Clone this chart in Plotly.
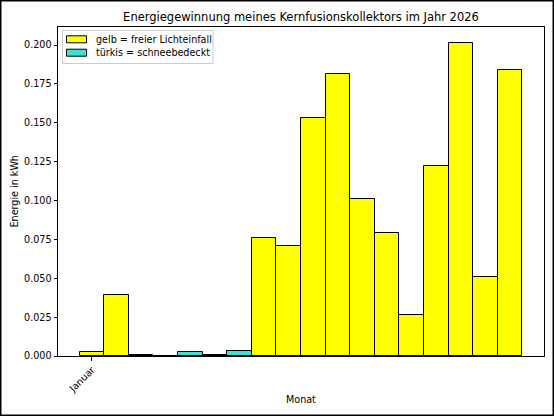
import plotly.graph_objects as go

# ---- data ----
month_index = list(range(18))
energy_kwh = [0.0024, 0.0390, 0.0009, 0.0003, 0.0026, 0.0009, 0.0032,
              0.0756, 0.0705, 0.1528, 0.1816, 0.1008, 0.0793, 0.0265,
              0.1220, 0.2015, 0.0506, 0.1838]
snow_covered = [False, False, True, True, True, True, True,
                False, False, False, False, False, False, False,
                False, False, False, False]
tick_positions = [0]
tick_labels = ["Januar"]
y_ticks = [0.0, 0.025, 0.05, 0.075, 0.1, 0.125, 0.15, 0.175, 0.2]
legend_labels = ["gelb = freier Lichteinfall", "türkis = schneebedeckt"]

YELLOW = "#ffff00"
TURQ = "#40e0d0"
FONT = "DejaVu Sans"

W, H = 554, 416
L, R, T, B = 58, 10, 27, 60
PW, PH = W - L - R, H - T - B


def px(x):
    return (x - L) / PW


def py(y):
    return 1 - (y - T) / PH


fig = go.Figure()
xs_y = [m for m, s in zip(month_index, snow_covered) if not s]
vs_y = [v for v, s in zip(energy_kwh, snow_covered) if not s]
xs_t = [m for m, s in zip(month_index, snow_covered) if s]
vs_t = [v for v, s in zip(energy_kwh, snow_covered) if s]

fig.add_trace(go.Bar(x=xs_y, y=vs_y, width=1, name=legend_labels[0],
                     marker=dict(color=YELLOW, line=dict(color="black", width=1)),
                     showlegend=False))
fig.add_trace(go.Bar(x=xs_t, y=vs_t, width=1, name=legend_labels[1],
                     marker=dict(color=TURQ, line=dict(color="black", width=1)),
                     showlegend=False))

shapes = []
# figure border
shapes.append(dict(type="rect", xref="paper", yref="paper",
                   x0=px(0.75), x1=px(W - 0.75), y0=py(H - 0.75), y1=py(0.75),
                   line=dict(color="black", width=1.5), fillcolor="rgba(0,0,0,0)",
                   layer="below"))
# legend box
shapes.append(dict(type="rect", xref="paper", yref="paper",
                   x0=px(62.5), x1=px(213), y0=py(63.5), y1=py(30.5),
                   line=dict(color="#cccccc", width=1), fillcolor="rgba(255,255,255,0.8)"))
annotations = []
for i, (lab, col) in enumerate(zip(legend_labels, [YELLOW, TURQ])):
    cy = 39.3 + i * 13.4
    shapes.append(dict(type="rect", xref="paper", yref="paper",
                       x0=px(66.5), x1=px(86.5), y0=py(cy + 3.5), y1=py(cy - 3.5),
                       line=dict(color="black", width=1), fillcolor=col))
    annotations.append(dict(text=lab, xref="paper", yref="paper", x=px(94), y=py(cy),
                            xanchor="left", yanchor="middle", showarrow=False,
                            font=dict(family=FONT, size=9.6, color="black")))

annotations.append(dict(text="Monat", xref="paper", yref="paper", x=0.5, y=py(400),
                        xanchor="center", yanchor="middle", showarrow=False,
                        font=dict(family=FONT, size=9.6, color="black")))
annotations.append(dict(text="Energie in kWh", xref="paper", yref="paper", x=px(14), y=0.5,
                        xanchor="center", yanchor="middle", showarrow=False, textangle=-90,
                        font=dict(family=FONT, size=9.6, color="black")))

fig.update_layout(
    width=W, height=H,
    margin=dict(l=L, r=R, t=T, b=B, autoexpand=False),
    paper_bgcolor="white", plot_bgcolor="white",
    barmode="overlay", bargap=0,
    title=dict(text="Energiegewinnung meines Kernfusionskollektors im Jahr 2026",
               x=0.5, xref="paper", y=1 - 17 / H, yref="container",
               xanchor="center", yanchor="middle",
               font=dict(family=FONT, size=11.5, color="black")),
    font=dict(family=FONT, size=9.6, color="black"),
    shapes=shapes, annotations=annotations,
    xaxis=dict(range=[-1.38, 18.38], tickvals=tick_positions, ticktext=tick_labels,
               tickangle=-45, ticks="outside", ticklen=3.5, tickcolor="black",
               showline=True, linecolor="black", linewidth=1, mirror=True,
               showgrid=False, zeroline=False,
               tickfont=dict(family=FONT, size=9.6, color="black")),
    yaxis=dict(range=[0, 0.2116], tickvals=y_ticks, tickformat=".3f",
               ticks="outside", ticklen=3.5, tickcolor="black",
               showline=True, linecolor="black", linewidth=1, mirror=True,
               showgrid=False, zeroline=False,
               tickfont=dict(family=FONT, size=9.6, color="black")),
)

fig.write_html("out.html", config={"displayModeBar": False},
               post_script="document.body.style.margin='0';document.body.style.padding='0';"
                           "document.body.style.overflow='hidden';")
